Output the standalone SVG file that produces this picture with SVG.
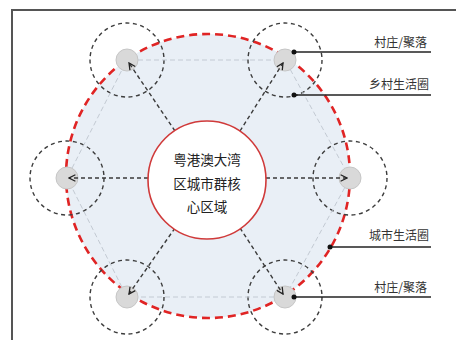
<svg xmlns="http://www.w3.org/2000/svg" width="456" height="340" viewBox="0 0 456 340">
<defs>
<style>
.ring{fill:none;stroke:#3c3c3c;stroke-width:1.4;stroke-dasharray:4 3.5}
.node{fill:#d9d9d9;stroke:#c6c6c6;stroke-width:1}
.hex{fill:none;stroke:#c3cad3;stroke-width:1;stroke-dasharray:5 3}
.arr{fill:none;stroke:#3a3a3a;stroke-width:1.4;stroke-dasharray:4 3;marker-end:url(#ah)}
.lead{stroke:#222;stroke-width:1.4}
.dot{fill:#111}
.lbl{font-family:"Noto Sans CJK SC","Noto Sans",sans-serif;font-size:12px;fill:#333;text-anchor:end}
.ctr{font-family:"Noto Sans CJK SC","Noto Sans",sans-serif;font-size:13.5px;fill:#222;text-anchor:middle}
</style>
<marker id="ah" viewBox="0 0 10 10" refX="9" refY="5" markerWidth="8" markerHeight="8" markerUnits="userSpaceOnUse" orient="auto">
<path d="M1,1 L9,5 L1,9" fill="none" stroke="#222" stroke-width="1.6"/>
</marker>
</defs>
<rect width="456" height="340" fill="#ffffff"/>
<path d="M12,340 V10 H456" fill="none" stroke="#555" stroke-width="2"/>
<g id="urban-circle">
<circle cx="208" cy="176" r="142" fill="#e9eff6" stroke="#e02424" stroke-width="2.6" stroke-dasharray="8 5"/>
</g>
<g id="village-tl"><circle class="ring" cx="127" cy="60" r="37"/><circle class="node" cx="127" cy="60" r="11"/></g>
<g id="village-tr"><circle class="ring" cx="285" cy="60" r="37"/><circle class="node" cx="285" cy="60" r="11"/></g>
<g id="village-l"><circle class="ring" cx="67" cy="178" r="37"/><circle class="node" cx="67" cy="178" r="11"/></g>
<g id="village-r"><circle class="ring" cx="350" cy="178" r="37"/><circle class="node" cx="350" cy="178" r="11"/></g>
<g id="village-bl"><circle class="ring" cx="127" cy="297" r="37"/><circle class="node" cx="127" cy="297" r="11"/></g>
<g id="village-br"><circle class="ring" cx="285" cy="297" r="37"/><circle class="node" cx="285" cy="297" r="11"/></g>
<g id="connectors">
<line class="hex" x1="138" y1="60" x2="274" y2="60"/>
<line class="hex" x1="290.3" y1="69.6" x2="344.7" y2="168.4"/>
<line class="hex" x1="344.7" y1="187.7" x2="290.3" y2="287.3"/>
<line class="hex" x1="274" y1="297" x2="138" y2="297"/>
<line class="hex" x1="122" y1="287.2" x2="72" y2="187.8"/>
<line class="hex" x1="72" y1="168.2" x2="122" y2="69.8"/>
<line class="arr" x1="175" y1="131" x2="129" y2="63"/>
<line class="arr" x1="240" y1="131" x2="283" y2="63"/>
<line class="arr" x1="148" y1="178" x2="69" y2="178"/>
<line class="arr" x1="266" y1="178" x2="347" y2="178"/>
<line class="arr" x1="175" y1="228" x2="129" y2="294"/>
<line class="arr" x1="240" y1="228" x2="283" y2="294"/>
</g>
<g id="core">
<circle cx="207" cy="180" r="59" fill="#ffffff" stroke="#d03a3a" stroke-width="1.6"/>
<text class="ctr" x="207" y="165">粤港澳大湾</text>
<text class="ctr" x="207" y="188.5">区城市群核</text>
<text class="ctr" x="207" y="212">心区域</text>
</g>
<g id="labels">
<line class="lead" x1="294" y1="52" x2="431" y2="52"/><circle class="dot" cx="294" cy="52" r="2.5"/>
<text class="lbl" x="427" y="47">村庄/聚落</text>
<line class="lead" x1="294" y1="95" x2="431" y2="95"/><circle class="dot" cx="294" cy="95" r="2.5"/>
<text class="lbl" x="429" y="89">乡村生活圈</text>
<line class="lead" x1="330" y1="247" x2="431" y2="247"/><circle class="dot" cx="330" cy="247" r="2.5"/>
<text class="lbl" x="429" y="240">城市生活圈</text>
<line class="lead" x1="294" y1="297" x2="431" y2="297"/><circle class="dot" cx="294" cy="297" r="2.5"/>
<text class="lbl" x="427" y="292">村庄/聚落</text>
</g>
</svg>
